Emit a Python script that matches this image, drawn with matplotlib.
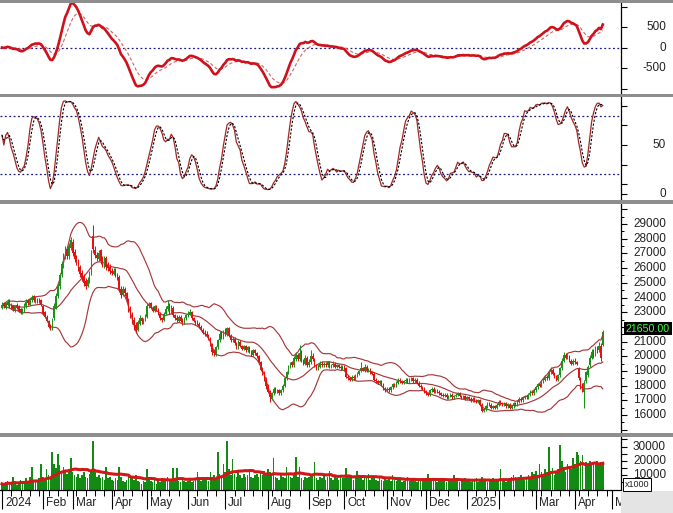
import numpy as np
import pandas as pd
import matplotlib
matplotlib.use('Agg')
import matplotlib.pyplot as plt
from matplotlib.patches import Rectangle
from matplotlib.transforms import offset_copy

plt.rcParams['font.family'] = ['Liberation Sans', 'DejaVu Sans']

# ---------------- data (prices in hundreds of VND, volume in x1000 shares) ----------------
close = [
    235, 234, 236, 237, 234, 233, 232, 234, 233, 231, 230, 232, 235, 237, 236, 239, 240, 238, 239, 237, 238, 235,
    229, 227, 224, 220, 219, 225, 234, 241, 248, 255, 263, 268, 272, 268, 275, 279,
    270, 266, 264, 260, 256, 253, 250, 248, 252, 256, 270, 273, 269, 267, 270, 265, 263, 266, 261, 260, 258,
    257, 258, 256, 254, 246, 242, 246, 243, 239, 232, 228, 225, 221, 218, 223, 226, 224, 225, 227,
    234, 235, 233, 231, 234, 232, 229, 226, 225, 229, 232, 234, 230, 233, 228, 226, 225, 227, 224, 223, 226, 228,
    229, 230, 226, 224, 223, 222, 220, 218, 216, 215, 214, 212, 208, 203, 202, 206, 211, 215, 213, 217,
    215, 219, 214, 211, 212, 209, 207, 210, 207, 205, 207, 204, 206, 203, 201, 204, 202, 200, 196, 191, 188, 184, 180,
    176, 172, 175, 178, 176, 177, 175, 177, 180, 185, 189, 193, 195, 194, 199, 201, 198, 202, 197, 195, 199, 194,
    196, 200, 198, 194, 192, 193, 195, 194, 195, 194, 196, 193, 194, 195, 193, 194, 193, 192, 193,
    192, 186, 185, 184, 186, 185, 187, 188, 190, 192, 191, 193, 190, 191, 189, 188, 184, 183, 182, 183, 181, 178, 177,
    178, 177, 179, 181, 180, 182, 184, 183, 182, 183, 184, 183, 184, 185, 183, 184, 182, 180, 179, 178, 176,
    175, 174, 177, 178, 176, 177, 176, 175, 174, 173, 174, 172, 173, 174, 172, 173, 174, 175, 173, 172, 173, 171,
    172, 171, 170, 171, 170, 169, 170, 167, 163, 164, 166, 168, 167, 165, 166, 165, 167,
    169, 168, 167, 168, 166, 167, 165, 166, 168, 167, 169, 171, 170, 172, 173, 172, 174, 176, 175, 177,
    179, 181, 180, 183, 184, 186, 185, 189, 191, 188, 186, 184, 187, 192, 197, 201, 199, 200, 197, 195, 197,
    196, 195, 185, 181, 179, 182, 189, 193, 199, 203, 201, 205, 203, 207, 199, 216.5,
]
open_ = [
    233, 236, 233, 235, 238, 235, 234, 231, 235, 234, 232, 230, 231, 234, 238, 235, 238, 241, 237, 238, 239, 238,
    234, 230, 227, 224, 221, 219, 226, 233, 241, 248, 256, 262, 268, 273, 268, 274,
    278, 271, 267, 265, 261, 257, 254, 251, 248, 252, 256, 282, 272, 269, 266, 272, 266, 262, 267, 262, 261,
    258, 256, 259, 256, 254, 246, 242, 246, 243, 239, 232, 228, 225, 221, 218, 222, 226, 224, 225,
    227, 234, 236, 233, 231, 234, 232, 229, 226, 225, 229, 232, 235, 230, 233, 228, 226, 224, 227, 224, 223, 226,
    228, 229, 230, 226, 224, 223, 222, 220, 218, 216, 215, 214, 212, 208, 204, 201, 206, 211, 216, 213,
    217, 215, 219, 214, 211, 212, 209, 206, 210, 207, 205, 207, 204, 206, 203, 201, 204, 202, 200, 196, 191, 188, 184,
    180, 176, 171, 175, 178, 176, 177, 175, 177, 180, 185, 189, 193, 196, 194, 198, 201, 198, 203, 197, 195, 199,
    194, 196, 200, 198, 194, 192, 193, 195, 194, 195, 194, 196, 193, 194, 195, 193, 194, 193, 192,
    193, 192, 186, 185, 184, 186, 185, 187, 188, 190, 192, 190, 193, 190, 191, 189, 188, 184, 183, 182, 183, 181, 178,
    177, 178, 177, 179, 181, 180, 182, 184, 183, 182, 183, 184, 183, 184, 185, 183, 184, 182, 180, 179, 178,
    176, 175, 174, 177, 178, 176, 177, 176, 175, 174, 173, 174, 172, 173, 174, 172, 173, 174, 175, 173, 172, 173,
    171, 172, 171, 170, 171, 170, 169, 170, 167, 163, 164, 166, 168, 167, 165, 166, 165,
    167, 169, 168, 167, 168, 166, 167, 165, 166, 168, 167, 169, 171, 170, 172, 173, 172, 174, 176, 175,
    177, 179, 181, 180, 183, 184, 186, 185, 189, 191, 188, 186, 184, 187, 192, 197, 201, 199, 200, 197, 195,
    197, 196, 192, 184, 180, 176, 183, 187, 194, 199, 203, 201, 205, 204, 207, 208,
]
high = [
    237, 237, 237, 239, 239, 236, 235, 235, 236, 235, 233, 233, 236, 239, 239, 240, 242, 242, 241, 240, 240, 239,
    235, 231, 228, 225, 222, 226, 236, 243, 250, 257, 265, 270, 275, 274, 277, 281,
    280, 273, 269, 266, 262, 259, 256, 253, 254, 258, 272, 289, 275, 271, 272, 273, 268, 268, 268, 264, 263,
    260, 260, 260, 257, 255, 248, 248, 247, 244, 240, 234, 230, 227, 223, 225, 228, 227, 226, 229,
    236, 237, 237, 234, 235, 235, 233, 230, 227, 230, 234, 238, 236, 235, 234, 229, 228, 228, 228, 226, 227, 229,
    231, 232, 231, 227, 225, 225, 223, 221, 219, 218, 217, 215, 213, 209, 205, 207, 212, 217, 217, 218,
    219, 220, 220, 215, 213, 213, 210, 211, 211, 208, 208, 208, 207, 207, 204, 205, 205, 203, 201, 197, 193, 190, 186,
    181, 177, 176, 179, 179, 178, 178, 178, 181, 186, 190, 194, 196, 197, 200, 203, 202, 208, 204, 198, 201, 200,
    198, 204, 202, 199, 195, 195, 197, 197, 196, 196, 197, 197, 195, 197, 196, 195, 195, 194, 194,
    194, 193, 187, 186, 187, 187, 188, 189, 191, 196, 193, 195, 194, 192, 192, 190, 189, 185, 184, 184, 184, 182, 179,
    179, 179, 180, 182, 182, 183, 185, 185, 184, 184, 185, 185, 185, 186, 186, 185, 185, 183, 181, 180, 179,
    177, 176, 178, 179, 179, 178, 178, 177, 176, 175, 175, 175, 174, 175, 175, 174, 175, 176, 176, 174, 174, 174,
    173, 173, 172, 172, 172, 171, 171, 171, 168, 165, 167, 169, 169, 168, 167, 167, 168,
    170, 170, 169, 169, 169, 168, 168, 167, 169, 169, 170, 172, 172, 173, 174, 174, 175, 177, 177, 178,
    180, 182, 182, 184, 185, 187, 187, 190, 193, 192, 189, 187, 188, 193, 199, 203, 202, 202, 201, 198, 198,
    199, 197, 193, 186, 182, 184, 190, 194, 201, 205, 205, 207, 207, 210, 209, 218,
]
low = [
    232, 233, 232, 234, 233, 232, 231, 230, 232, 230, 229, 229, 230, 233, 235, 234, 237, 237, 236, 236, 236, 234,
    228, 226, 223, 219, 218, 218, 225, 232, 240, 246, 254, 260, 266, 266, 266, 272,
    268, 264, 262, 258, 254, 251, 248, 246, 247, 250, 255, 270, 267, 265, 265, 263, 261, 260, 259, 258, 256,
    255, 255, 254, 252, 244, 240, 241, 241, 237, 230, 226, 222, 218, 216, 217, 221, 222, 222, 224,
    226, 233, 232, 230, 230, 231, 228, 225, 223, 224, 228, 231, 229, 229, 227, 225, 223, 223, 223, 221, 222, 225,
    227, 228, 225, 223, 221, 221, 219, 217, 215, 214, 213, 211, 207, 201, 200, 200, 205, 210, 212, 212,
    214, 214, 213, 210, 210, 208, 205, 205, 206, 204, 204, 203, 203, 202, 200, 200, 201, 199, 195, 190, 187, 183, 178,
    175, 169, 170, 174, 175, 175, 174, 174, 176, 179, 184, 188, 192, 193, 193, 197, 197, 197, 196, 194, 194, 193,
    193, 195, 197, 193, 191, 191, 192, 193, 193, 193, 193, 192, 192, 193, 192, 192, 192, 191, 191,
    191, 185, 184, 183, 183, 184, 184, 186, 187, 189, 190, 189, 189, 189, 188, 187, 183, 182, 181, 181, 180, 177, 176,
    176, 176, 176, 178, 179, 179, 181, 182, 181, 181, 182, 182, 182, 183, 182, 182, 181, 179, 178, 177, 175,
    174, 173, 173, 176, 175, 175, 175, 174, 173, 172, 172, 171, 171, 172, 171, 171, 172, 173, 172, 171, 171, 170,
    170, 170, 169, 169, 169, 168, 168, 166, 162, 162, 163, 165, 166, 164, 164, 164, 164,
    166, 167, 166, 166, 165, 165, 164, 164, 165, 166, 166, 168, 169, 169, 171, 171, 171, 173, 174, 174,
    176, 178, 179, 179, 182, 183, 184, 184, 188, 187, 185, 183, 183, 186, 191, 196, 198, 198, 196, 194, 194,
    195, 194, 184, 178, 176, 165, 182, 186, 193, 198, 199, 200, 202, 203, 197, 207,
]
volume = [
    4000, 3000, 5000, 6000, 3500, 4500, 9000, 4000, 3000, 5500, 7000, 4000, 6000, 8000, 5000, 9000, 15500, 6000, 7000, 5000, 8000, 18000,
    9000, 7000, 14000, 10000, 8000, 26000, 18000, 15000, 25000, 17000, 12000, 16000, 13000, 11000, 14000, 22000,
    12000, 10000, 9000, 11000, 8000, 10000, 12000, 9000, 8000, 11000, 13000, 34000, 12000, 9000, 10000, 8000, 9000, 7000, 15500, 8000, 9000,
    7000, 6000, 8000, 7000, 15500, 9000, 6000, 5000, 7000, 10000, 8000, 9000, 7000, 10000, 6000, 5000, 4000, 6000, 5000,
    14000, 8000, 6000, 5000, 7000, 4000, 6000, 5000, 8000, 6000, 7000, 9000, 6000, 7000, 15000, 8000, 15000, 6000, 5000, 7000, 6000, 5000,
    6000, 7000, 5000, 6000, 8000, 12000, 7000, 6000, 9000, 7000, 8000, 6000, 12000, 9000, 10000, 8000, 26500, 11000, 9000, 18000,
    12000, 34000, 14000, 10000, 21000, 11000, 9000, 12000, 10000, 8000, 11000, 9000, 10000, 12000, 9000, 8000, 10000, 11000, 9000, 12000, 10000, 13000, 11000,
    14000, 12000, 10000, 22000, 9000, 8000, 7000, 10000, 9000, 8000, 15500, 10000, 9000, 8000, 10000, 22500, 9000, 15500, 8000, 7000, 9000, 8000,
    9000, 11000, 10000, 19500, 8000, 7000, 9000, 8000, 10000, 7000, 9000, 13000, 8000, 7000, 9000, 8000, 7000, 10000, 8000,
    8000, 15000, 10000, 9000, 8000, 7000, 9000, 13000, 9000, 8000, 7000, 9000, 8000, 11000, 7000, 8000, 9000, 7000, 6000, 8000, 7000, 6000, 8000,
    7000, 8000, 6000, 10000, 7000, 6000, 8000, 7000, 5000, 6000, 7000, 9000, 6000, 7000, 8000, 6000, 5000, 7000, 6000, 8000, 7000,
    8000, 11000, 7000, 6000, 8000, 7000, 5000, 6000, 7000, 6000, 8000, 5000, 6000, 7000, 6000, 10000, 7000, 6000, 5000, 7000, 6000, 8000,
    7000, 6000, 5000, 7000, 6000, 8000, 5000, 6000, 9000, 7000, 6000, 5000, 7000, 6000, 8000, 6000, 7000,
    7000, 14000, 6000, 7000, 5000, 6000, 8000, 9000, 10000, 9000, 8000, 9000, 10000, 8000, 7000, 9000, 10000, 9000, 12000, 11000,
    13000, 10000, 18000, 12000, 11000, 14000, 12000, 30000, 13000, 15000, 10000, 12000, 14000, 31000, 20000, 16000, 12000, 18000, 15000, 14000, 22000,
    18000, 26000, 24000, 20000, 24000, 500, 19000, 18000, 20000, 17000, 19000, 18000, 20000, 17000, 19000, 18000,
]
# trading days per month (Jan 2024 .. Apr 2025) and month labels
month_days = [22, 16, 21, 19, 22, 20, 23, 22, 19, 23, 21, 22, 17, 20, 21, 20]
month_labels = ['2024', 'Feb', 'Mar', 'Apr', 'May', 'Jun', 'Jul', 'Aug', 'Sep', 'Oct', 'Nov', 'Dec',
                '2025', '', 'Mar', 'Apr', 'M']
price_labels = [16000, 17000, 18000, 19000, 20000, 21000, 23000, 24000, 25000, 26000, 27000, 28000, 29000]
last_price_label = '21650.00'

n = len(close)
assert len(open_) == n and len(high) == n and len(low) == n and len(volume) == n, (n, len(open_), len(high), len(low), len(volume))

C = np.array(close, float) * 100
O = np.array(open_, float) * 100
Hh = np.array(high, float) * 100
Ll = np.array(low, float) * 100
V = np.array(volume, float)
x = np.arange(n)

# ---------------- indicators ----------------
cs = pd.Series(C)
bb_mid = cs.rolling(20, min_periods=2).mean()
bb_sd = cs.rolling(20, min_periods=2).std(ddof=0)
bb_up = bb_mid + 2 * bb_sd
bb_lo = bb_mid - 2 * bb_sd
macd = cs.ewm(span=12, adjust=False).mean() - cs.ewm(span=26, adjust=False).mean()
signal = macd.ewm(span=9, adjust=False).mean()
hh = pd.Series(Hh).rolling(14, min_periods=1).max()
ll = pd.Series(Ll).rolling(14, min_periods=1).min()
fast_k = 100 * (cs - ll) / (hh - ll)
slow_k = fast_k.rolling(5, min_periods=1).mean()
slow_d = slow_k.rolling(3, min_periods=1).mean()
vma = pd.Series(V).rolling(20, min_periods=1).mean()

# ---------------- layout ----------------
W, H = 673, 513
fig = plt.figure(figsize=(W / 100, H / 100), dpi=100)
AXR = 621.0

def add_ax(top, bottom):
    return fig.add_axes([0, 1 - bottom / H, AXR / W, (bottom - top) / H])

ax1 = add_ax(2.5, 94)
ax2 = add_ax(97, 200)
ax3 = add_ax(203.5, 433)
ax4 = add_ax(436.5, 490)

XMIN, XMAX = (0 - 2) / 1.86, (AXR - 2) / 1.86
FS = 8.5
LBLX = 666 / AXR

for ax in (ax1, ax2, ax3, ax4):
    ax.set_xlim(XMIN, XMAX)
    for s in ('left', 'top', 'bottom'):
        ax.spines[s].set_visible(False)
    ax.spines['right'].set_linewidth(0.9)
    ax.spines['right'].set_color('black')
    ax.yaxis.tick_right()
    ax.tick_params(axis='y', direction='out', length=4, width=0.8, labelright=False, labelleft=False)
    ax.tick_params(axis='x', bottom=False, labelbottom=False)
    ax.patch.set_facecolor('white')

def ylabels(ax, vals, texts):
    for v, t in zip(vals, texts):
        ax.text(LBLX, v, t, transform=ax.get_yaxis_transform(), ha='right', va='center',
                fontsize=FS, color='#222222', clip_on=False)

RED = '#E31212'
GREEN = '#1E901E'
BBC = '#A8393A'
NAVY = '#1A1A80'

# --- panel 1: MACD ---
ax1.set_ylim(-1134, 1098)
ax1.axhline(0, color=NAVY, lw=0.9, ls=(0, (1.5, 2)))
ax1.plot(x, signal, color='#CC6666', lw=0.8, ls=(0, (3, 2)))
ax1.plot(x, macd, color='#D0101A', lw=1.9)
ax1.set_yticks([-1000, -500, 0, 500, 1000])
ylabels(ax1, [500, 0, -500], ['500', '0', '-500'])

# --- panel 2: stochastic ---
ax2.set_ylim(-6.1, 99)
ax2.axhline(80, color=NAVY, lw=0.9, ls=(0, (1.5, 2)))
ax2.axhline(20, color=NAVY, lw=0.9, ls=(0, (1.5, 2)))
ax2.plot(x, slow_k, color='#A02828', lw=0.9)
ax2.plot(x, slow_d, color='black', lw=0.8, ls=(0, (2, 1.5)))
ax2.set_yticks([0, 10, 30, 50, 70, 90])
ylabels(ax2, [50, 0], ['50', '0'])

# --- panel 3: price ---
ax3.set_ylim(14782, 30395)
ax3.plot(x, bb_up, color=BBC, lw=0.85)
ax3.plot(x, bb_mid, color=BBC, lw=0.85)
ax3.plot(x, bb_lo, color=BBC, lw=0.85)
cols = np.where(C >= O, GREEN, RED)
ax3.vlines(x, Ll, Hh, colors=cols, lw=0.75)
body = np.maximum(np.abs(C - O), 40)
ax3.bar(x, body, bottom=np.minimum(O, C), width=0.75, color=cols, lw=0)
ax3.set_yticks(list(range(15000, 30001, 1000)))
ax3.set_yticks(list(range(15500, 30000, 1000)), minor=True)
ax3.tick_params(axis='y', which='minor', direction='out', length=2.5, width=0.7)
ylabels(ax3, price_labels, [str(v) for v in price_labels])
tr = offset_copy(ax3.get_yaxis_transform(), fig=fig, x=0, y=3.5, units='dots')
ax3.text(626 / AXR, C[-1], last_price_label, transform=tr, ha='left', va='center',
         fontsize=7.7, color='#40FF40', clip_on=False,
         bbox=dict(facecolor='black', edgecolor='none', pad=1.2))

# --- panel 4: volume ---
ax4.set_ylim(-300, 37000)
ax4.bar(x, V, width=0.85, color='#138A13', lw=0)
ax4.plot(x, vma, color='#D01818', lw=2.2)
ax4.set_yticks([5000, 10000, 15000, 20000, 25000, 30000, 35000])
ylabels(ax4, [10000, 20000, 30000], ['10000', '20000', '30000'])
ax4.spines['bottom'].set_visible(True)
ax4.spines['bottom'].set_linewidth(0.9)

# month ticks / labels
starts = np.concatenate([[0], np.cumsum(month_days)])
ax4.set_xticks(starts)
minor = [v for v in range(0, 330, 5) if v not in set(starts)]
ax4.set_xticks(minor, minor=True)
ax4.tick_params(axis='x', which='major', bottom=True, direction='out', length=14, width=0.8, labelbottom=False)
ax4.tick_params(axis='x', which='minor', bottom=True, direction='out', length=4, width=0.7)
for s, lab in zip(starts, month_labels):
    if lab:
        ax4.text(s + 1.6, -13.5 / 53.5, lab, transform=ax4.get_xaxis_transform(), ha='left', va='center',
                 fontsize=FS, color='#222222', clip_on=False)

# x1000 box
fig.text(625 / W, 1 - 484.5 / H, 'x1000', fontsize=6.5, ha='left', va='center', color='#222222',
         bbox=dict(facecolor='white', edgecolor='black', lw=0.7, pad=1.2))

# separators and corner
GR = '#8E8E8E'
for y1, y2 in [(0, 2.5), (94, 97), (200, 203.5), (433, 436.5)]:
    fig.patches.append(Rectangle((0, 1 - y2 / H), 1, (y2 - y1) / H, transform=fig.transFigure,
                                 facecolor=GR, edgecolor='none', zorder=5))
fig.patches.append(Rectangle((AXR / W, 0), 1 - AXR / W, 1 - 490.5 / H, transform=fig.transFigure,
                             facecolor='#E4E4E4', edgecolor='none', zorder=0))

fig.savefig('out.png', dpi=100, facecolor='white')
